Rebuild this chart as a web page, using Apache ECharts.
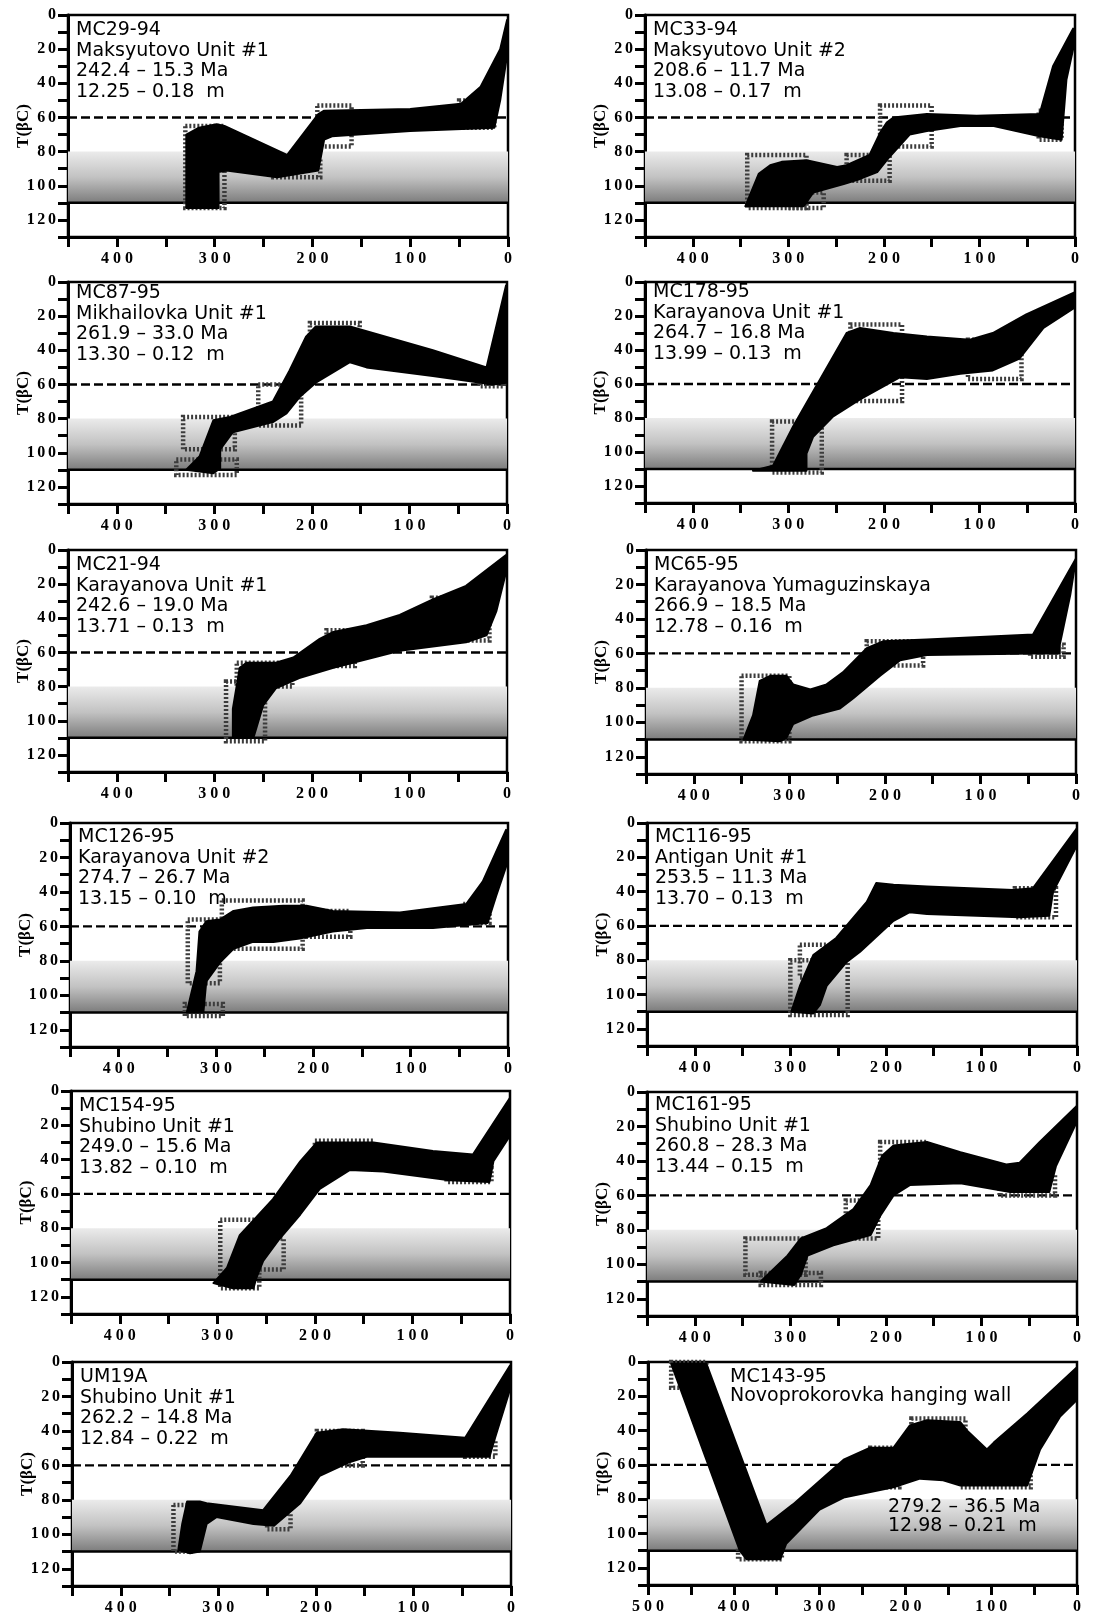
<!DOCTYPE html>
<html><head><meta charset="utf-8">
<script src="https://cdn.jsdelivr.net/npm/echarts@6/dist/echarts.min.js"></script>
<style>html,body{margin:0;padding:0;background:#fff}#c{width:1107px;height:1616px}</style>
</head><body><div id="c"></div>
<script>
// ---------------- DATA ----------------
const sampleIds = ['MC29-94','MC33-94','MC87-95','MC178-95','MC21-94','MC65-95','MC126-95','MC116-95','MC154-95','MC161-95','UM19A','MC143-95'];
const unitNames = ['Maksyutovo Unit #1','Maksyutovo Unit #2','Mikhailovka Unit #1','Karayanova Unit #1','Karayanova Unit #1','Karayanova Yumaguzinskaya','Karayanova Unit #2','Antigan Unit #1','Shubino Unit #1','Shubino Unit #1','Shubino Unit #1','Novoprokorovka hanging wall'];
const ageTexts = ['242.4 – 15.3 Ma','208.6 – 11.7 Ma','261.9 – 33.0 Ma','264.7 – 16.8 Ma','242.6 – 19.0 Ma','266.9 – 18.5 Ma','274.7 – 26.7 Ma','253.5 – 11.3 Ma','249.0 – 15.6 Ma','260.8 – 28.3 Ma','262.2 – 14.8 Ma','279.2 – 36.5 Ma'];
const lengthTexts = ['12.25 – 0.18  m','13.08 – 0.17  m','13.30 – 0.12  m','13.99 – 0.13  m','13.71 – 0.13  m','12.78 – 0.16  m','13.15 – 0.10  m','13.70 – 0.13  m','13.82 – 0.10  m','13.44 – 0.15  m','12.84 – 0.22  m','12.98 – 0.21  m'];
const xMaxValues = [450,450,450,450,450,450,450,450,450,450,450,500];
const yMax = 130;
const pazTop = 80, pazBottom = 110, dashedT = 60;

// model envelopes: [age Ma, T °C] vertices
const env_MC29_94 = [[329,113],[329,70],[316,66],[298,64],[290,65],[226,82],[194,58],[188,56],[100,55],[48,52],[28,42],[8,20],[1,3],[0,20],[8,50],[14,66],[100,68],[180,71],[188,73],[194,91],[236,95],[288,91],[296,92],[296,113]];
const env_MC33_94 = [[345,112],[331,93],[319,88],[307,86],[281,85],[249,89],[239,88],[215,82],[204,69],[197,63],[190,60],[155,58],[103,59],[37,58],[23,30],[2,8],[0,15],[9,38],[14,73],[37,71],[85,65],[120,65],[155,68],[173,70],[194,83],[207,92],[225,96],[242,99],[274,104],[284,112]];
const env_MC87_95 = [[329,110],[315,102],[301,81],[284,79],[240,70],[223,52],[206,32],[196,26],[161,26],[76,40],[21,50],[1,2],[0,30],[1,59],[14,60],[76,55],[144,50],[161,47],[196,59],[212,67],[226,77],[240,82],[281,88],[294,98],[294,109],[301,112]];
const env_MC178_95 = [[337,111],[316,108],[295,85],[239,30],[225,27],[190,30],[155,32],[110,34],[86,30],[51,19],[0,6],[0,15],[33,27],[58,45],[86,52],[120,54],[155,57],[183,56],[225,69],[253,79],[274,91],[281,101],[281,111]];
const env_MC21_94 = [[281,110],[281,93],[274,69],[267,66],[237,66],[219,63],[192,52],[178,48],[144,44],[110,38],[76,29],[42,21],[1,3],[1,13],[11,36],[21,50],[42,54],[110,59],[144,64],[178,69],[213,75],[237,81],[250,91],[260,110]];
const env_MC65_95 = [[348,110],[338,96],[331,76],[320,73],[303,73],[296,78],[278,81],[261,78],[244,71],[219,57],[202,53],[156,52],[45,49],[0,5],[6,26],[17,55],[17,60],[45,60],[156,61],[184,64],[205,73],[233,86],[247,92],[275,96],[296,101],[303,109],[310,111]];
const env_MC126_95 = [[330,110],[320,86],[317,63],[310,57],[296,56],[282,51],[262,49],[231,48],[207,48],[180,51],[111,52],[43,47],[26,34],[2,4],[0,22],[12,42],[21,58],[77,61],[145,61],[180,63],[214,67],[241,69],[262,69],[282,73],[296,81],[310,92],[313,110]];
const env_MC116_95 = [[299,110],[290,95],[276,77],[252,67],[220,46],[210,35],[192,36],[157,37],[67,39],[46,38],[0,3],[0,13],[25,40],[29,54],[60,55],[157,53],[175,52],[192,57],[227,75],[241,81],[262,95],[269,106],[276,111]];
const env_MC154_95 = [[304,112],[290,103],[277,84],[243,63],[215,41],[198,30],[140,30],[79,35],[38,37],[0,4],[0,26],[17,41],[21,53],[62,52],[130,47],[164,46],[195,57],[215,72],[236,86],[253,99],[260,109],[263,115],[284,115]];
const env_MC161_95 = [[331,110],[303,95],[289,85],[262,79],[234,68],[216,54],[204,37],[192,31],[157,29],[122,35],[74,42],[60,41],[39,29],[0,8],[0,17],[22,43],[29,58],[70,58],[122,53],[175,54],[192,60],[206,72],[216,83],[255,89],[282,95],[289,106],[296,112]];
const env_UM19A = [[341,109],[337,94],[332,81],[319,81],[312,82],[254,86],[226,66],[199,41],[172,39],[114,41],[47,44],[1,2],[0,14],[18,47],[22,55],[45,55],[148,55],[165,58],[196,66],[216,82],[243,95],[264,94],[302,90],[312,94],[319,110],[329,111]];
const env_MC143_95 = [[473,1],[393,110],[385,115],[346,115],[339,106],[300,86],[272,79],[214,73],[183,68],[156,69],[136,72],[58,72],[43,51],[20,32],[0,22],[0,3],[58,30],[97,47],[105,51],[128,40],[136,35],[175,34],[195,37],[214,50],[241,50],[272,57],[331,83],[362,95],[432,1]];

// constraint boxes: [oldAge, youngAge, Tlow, Thigh]
const boxes_MC29_94 = [[330,290,65,113],[240,192,84,95],[195,160,53,77],[50,14,50,66]];
const boxes_MC33_94 = [[343,281,82,113],[300,263,104,113],[239,194,82,97],[204,150,53,77],[38,14,56,73]];
const boxes_MC87_95 = [[339,277,104,113],[332,279,79,98],[255,211,60,84],[202,151,24,36],[28,3,55,61]];
const boxes_MC178_95 = [[317,265,82,112],[235,181,25,70],[112,56,34,57]];
const boxes_MC21_94 = [[288,248,77,112],[277,220,66,80],[185,156,47,68],[77,18,28,53]];
const boxes_MC65_95 = [[350,300,73,111],[219,160,53,67],[48,13,55,62]];
const boxes_MC126_95 = [[329,296,56,93],[332,293,105,112],[294,211,45,73],[207,162,51,66],[46,19,47,58]];
const boxes_MC116_95 = [[300,240,80,112],[290,262,71,90],[65,22,38,55]];
const boxes_MC154_95 = [[297,257,75,115],[260,232,86,104],[200,140,29,45],[65,19,45,53]];
const boxes_MC161_95 = [[347,284,85,106],[331,268,105,112],[242,208,63,85],[206,157,29,43],[81,23,48,60]];
const boxes_UM19A = [[346,325,83,110],[250,226,88,97],[199,152,40,60],[47,16,45,55]];
const boxes_MC143_95 = [[473,432,0,15],[395,344,108,115],[241,207,50,73],[193,130,33,45],[136,54,58,73]];

const envelopes = [env_MC29_94,env_MC33_94,env_MC87_95,env_MC178_95,env_MC21_94,env_MC65_95,env_MC126_95,env_MC116_95,env_MC154_95,env_MC161_95,env_UM19A,env_MC143_95];
const boxSets = [boxes_MC29_94,boxes_MC33_94,boxes_MC87_95,boxes_MC178_95,boxes_MC21_94,boxes_MC65_95,boxes_MC126_95,boxes_MC116_95,boxes_MC154_95,boxes_MC161_95,boxes_UM19A,boxes_MC143_95];

// ---------------- LAYOUT ----------------
const layout = [[68,15,440,222],[645,15,430,222],[68,282,439,222],[645,282,430,221],[68,550,439,222],[646,550,430,224],[70,823,438,224],[647,823,430,223],[71,1091,439,223],[647,1092,430,224],[72,1362,439,224],[648,1362,429,223]];
const textOffsets = [10,10,6,5,10,10,9,9,10,8,10,10];
const FONT_TXT = '"DejaVu Sans", sans-serif';
const FONT_AX = '"Liberation Serif", "Times New Roman", serif';
const spaced = (v, s) => String(v).split('').join(s);

const chart = echarts.init(document.getElementById('c'), null, {renderer:'canvas'});
const grids=[], xAxes=[], yAxes=[], series=[], titles=[];

layout.forEach((g,i)=>{
  const [l,t,w,h] = g;
  const xMax = xMaxValues[i];
  grids.push({left:l, top:t, width:w, height:h, show:true, borderColor:'#000', borderWidth:2.5, backgroundColor:'transparent'});
  xAxes.push({gridIndex:i, type:'value', min:0, max:xMax, inverse:true, interval:50,
    axisLine:{show:true, onZero:false, lineStyle:{color:'#000', width:3}},
    axisTick:{show:true, length:10, lineStyle:{color:'#000', width:3}},
    axisLabel:{margin:14, formatter:v=> (v%100===0 ? spaced(v,'\u2005') : ''), fontFamily:FONT_AX, fontWeight:'bold', fontSize:16, color:'#000'},
    splitLine:{show:false}});
  yAxes.push({gridIndex:i, type:'value', min:0, max:yMax, inverse:true, interval:10,
    name:'T(βC)', nameLocation:'middle', nameGap:36, nameRotate:90, nameMoveOverlap:false,
    nameTextStyle:{fontFamily:FONT_AX, fontWeight:'bold', fontSize:17, color:'#000'},
    axisLine:{show:true, onZero:false, lineStyle:{color:'#000', width:3}},
    axisTick:{show:true, length:10, lineStyle:{color:'#000', width:3}},
    axisLabel:{margin:12, formatter:v=> (v%20===0 && v<=120 ? spaced(v,'\u2006') : ''), fontFamily:FONT_AX, fontWeight:'bold', fontSize:16, color:'#000'},
    splitLine:{show:false}});

  // PAZ band
  series.push({type:'custom', xAxisIndex:i, yAxisIndex:i, z:1, silent:true,
    data:[[xMax,0,pazTop,pazBottom]], encode:{x:[0,1], y:[2,3]},
    renderItem:(params, api)=>{
      const a = api.coord([api.value(0), api.value(2)]), b = api.coord([api.value(1), api.value(3)]);
      return {type:'rect', shape:{x:Math.min(a[0],b[0]), y:Math.min(a[1],b[1]), width:Math.abs(b[0]-a[0]), height:Math.abs(b[1]-a[1])},
        style:{fill:new echarts.graphic.LinearGradient(0,0,0,1,[{offset:0,color:'#ebebeb'},{offset:0.5,color:'#c2c2c2'},{offset:1,color:'#7c7c7c'}])}};
    }});
  // reference lines at 60 (dashed) and 110 (solid)
  series.push({type:'custom', xAxisIndex:i, yAxisIndex:i, z:2, silent:true,
    data:[[xMax,0,dashedT,1],[xMax,0,pazBottom,0]], encode:{x:[0,1], y:[2]},
    renderItem:(params, api)=>{
      const a = api.coord([api.value(0), api.value(2)]), b = api.coord([api.value(1), api.value(2)]);
      const dashed = api.value(3) === 1;
      return {type:'line', shape:{x1:a[0], y1:a[1], x2:b[0], y2:b[1]},
        style:{stroke:'#000', lineWidth: dashed ? 2.4 : 2.5, lineDash: dashed ? [9,4] : null}};
    }});
  // constraint boxes
  series.push({type:'custom', xAxisIndex:i, yAxisIndex:i, z:3, silent:true,
    data:boxSets[i], encode:{x:[0,1], y:[2,3]},
    renderItem:(params, api)=>{
      const a = api.coord([api.value(0), api.value(2)]), b = api.coord([api.value(1), api.value(3)]);
      return {type:'rect', shape:{x:Math.min(a[0],b[0]), y:Math.min(a[1],b[1]), width:Math.abs(b[0]-a[0]), height:Math.abs(b[1]-a[1])},
        style:{fill:null, stroke:'#3c3c3c', lineWidth:4.5, lineDash:[2,2]}};
    }});
  // model path envelope
  const env = envelopes[i];
  series.push({type:'custom', xAxisIndex:i, yAxisIndex:i, z:4, silent:true,
    data:env, encode:{x:0, y:1},
    renderItem:(params, api)=>{
      if (params.dataIndex !== 0) return;
      const pts = env.map(p => api.coord(p));
      return {type:'polygon', shape:{points:pts}, style:{fill:'#000', stroke:'#000', lineWidth:2, lineJoin:'round'}};
    }});

  const ts = {fontFamily:FONT_TXT, fontSize:19, fontWeight:'normal', color:'#000', lineHeight:20.5};
  if (i < 11) {
    titles.push({text:[sampleIds[i], unitNames[i], ageTexts[i], lengthTexts[i]].join('\n'), left:l+8, top:t+textOffsets[i]-5, padding:0, textStyle:ts});
  } else {
    titles.push({text:[sampleIds[i], unitNames[i]].join('\n'), left:730, top:1368, padding:0, textStyle:Object.assign({}, ts, {lineHeight:19})});
    titles.push({text:[ageTexts[i], lengthTexts[i]].join('\n'), left:888, top:1498, padding:0, textStyle:Object.assign({}, ts, {lineHeight:19})});
  }
});

chart.setOption({animation:false, backgroundColor:'#fff', title:titles, grid:grids, xAxis:xAxes, yAxis:yAxes, series:series});
</script></body></html>
